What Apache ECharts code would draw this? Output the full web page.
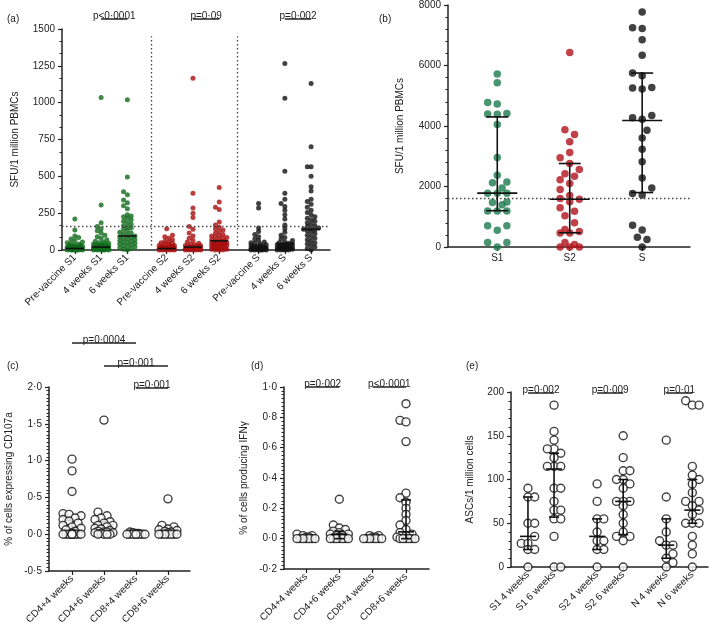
<!DOCTYPE html>
<html><head><meta charset="utf-8">
<script src="https://cdn.jsdelivr.net/npm/echarts@6/dist/echarts.min.js"></script>
<style>html,body{margin:0;padding:0;background:#fff}#c{width:709px;height:627px}</style>
</head><body><div id="c"></div>
<script>
// ================= DATA =================
// (a) SFU/1 million PBMCs
const catsA = ['Pre-vaccine S1','4 weeks S1','6 weeks S1','Pre-vaccine S2','4 weeks S2','6 weeks S2','Pre-vaccine S','4 weeks S','6 weeks S'];
const preS1 = [210,135,95,85,75,65,55,50,45,40,35,30,30,25,25,25,20,20,20,20,15,15,15,15,10,10,10,10,10,5,5,5,5,5,5,0,0,0,0,0,0,0];
const w4S1 = [1035,305,185,160,145,130,115,100,90,80,70,60,55,50,45,40,40,35,35,30,30,25,25,25,20,20,20,20,15,15,15,15,10,10,10,10,10,5,5,5,5,5,0,0,0,0,0,0];
const w6S1 = [1020,495,395,375,340,320,300,280,240,230,225,215,205,195,185,175,165,155,150,140,130,120,115,110,100,95,90,85,80,75,70,65,60,55,50,45,40,35,30,25,20,15,10,5,0];
const preS2 = [145,100,90,80,70,60,55,50,45,40,35,30,30,25,25,20,20,20,15,15,15,10,10,10,10,5,5,5,5,0,0,0,0,0];
const w4S2 = [1165,385,285,250,220,160,140,115,95,80,65,55,45,40,35,30,30,25,25,20,20,20,15,15,15,10,10,10,10,5,5,5,5,0,0,0,0,0];
const w6S2 = [425,325,290,275,190,170,155,145,135,125,115,105,100,95,90,85,80,75,70,65,60,60,55,55,50,50,45,45,40,40,35,35,30,30,25,25,20,20,15,15,10,10,5,5,0,0,0];
const preS = [315,285,150,125,105,90,75,65,55,50,45,40,35,30,30,25,25,20,20,20,15,15,15,10,10,10,10,5,5,5,5,0,0,0,0,0,0];
const w4S = [1265,1030,535,385,345,315,295,270,240,210,170,145,120,100,85,75,65,55,50,45,40,40,35,35,30,30,25,25,20,20,20,15,15,15,10,10,10,5,5,5,0,0,0,0];
const w6S = [1130,700,565,565,500,430,400,345,330,310,290,270,255,240,225,215,205,195,185,175,165,160,150,145,140,135,130,120,110,100,90,80,70,60,50,40,30,20,10,0];
const medA = [10,20,95,10,20,62,15,45,140];
const thresholdA = 163;
const pA = [[1,2,'p<0·0001'],[4,5,'p=0·09'],[7,8,'p=0·002']];

// (b) SFU/1 million PBMCs
const catsB = ['S1','S2','S'];
const bS1 = [5720,5430,4780,4730,4400,4410,4390,4050,2960,2370,2150,2120,1950,1780,1780,1780,1400,1470,1490,1190,1190,1190,700,700,550,150,150,0];
const bS2 = [6430,3880,3720,3480,3120,2950,2760,2560,2420,2340,2220,2100,1900,1700,1600,1580,1500,1300,1180,1030,800,580,510,460,460,150,80,0,0,0];
const bS = [7770,7220,7250,6850,6340,5750,5660,5270,5220,5260,4350,4270,4220,3860,3600,3230,2820,2280,1950,1770,1720,720,560,320,250,0];
const medB = [1780,1580,4180];
const q1B = [1200,470,1800];
const q3B = [4300,2760,5750];
const thresholdB = 1620;

// (c) % of cells expressing CD107a
const catsC = ['CD4+4 weeks','CD4+6 weeks','CD8+4 weeks','CD8+6 weeks'];
const c1 = [1.02,0.86,0.58,0.28,0.27,0.25,0.22,0.2,0.18,0.15,0.12,0.1,0.08,0.06,0.04,0.02,0,0,0,0,0,0,0,0,0,0];
const c2 = [1.55,0.3,0.25,0.22,0.2,0.17,0.15,0.12,0.12,0.1,0.08,0.07,0.05,0.04,0.03,0.03,0.02,0.02,0.01,0,0,0,0];
const c3 = [0.03,0.02,0.01,0.01,0,0,0,0,0,0,0,0];
const c4 = [0.48,0.12,0.1,0.07,0.06,0.05,0.04,0.03,0.02,0,0,0,0,0,0,0];
const medC = [0,0.06,0,0.02];
const q3C = [0.19,0.17,0.01,0.05];
const pC = [[0,2,'p=0·0004'],[1,3,'p=0·001'],[2,3,'p=0·001']];

// (d) % of cells producing IFNγ
const catsD = ['CD4+4 weeks','CD4+6 weeks','CD8+4 weeks','CD8+6 weeks'];
const d1 = [0.03,0.02,0.02,0.01,0.01,0,0,0,0,0,0,0];
const d2 = [0.26,0.09,0.07,0.06,0.05,0.04,0.03,0.03,0.02,0.02,0.01,0,0,0,0,0,0,0];
const d3 = [0.02,0.02,0.01,0.01,0,0,0,0,0,0,0];
const d4 = [0.89,0.78,0.77,0.64,0.3,0.27,0.24,0.2,0.16,0.12,0.09,0.06,0.04,0.03,0.02,0.01,0,0,0,0,0,0];
const medD = [0,0.03,0,0.045];
const q1D = [0,0,0,0];
const q3D = [0.01,0.05,0.01,0.255];
const pD = [[0,1,'p=0·002'],[2,3,'p<0·0001']];

// (e) ASCs/1 million cells
const catsE = ['S1 4 weeks','S1 6 weeks','S2 4 weeks','S2 6 weeks','N 4 weeks','N 6 weeks'];
const e1 = [90,80,80,50,50,35,27,27,20,20,0];
const e2 = [185,155,145,135,135,130,125,115,115,115,90,90,75,65,65,55,55,35,0,0];
const e3 = [95,75,55,55,40,30,30,20,20,0];
const e4 = [150,125,110,110,100,100,95,90,75,75,75,70,60,50,40,35,35,30,0];
const e5 = [145,80,55,40,30,25,25,15,10,5,0];
const e6 = [190,185,185,115,105,100,95,85,75,75,70,65,60,50,50,50,35,25,15,0];
const medE = [35,112,35,75,25,65];
const q1E = [20,57,20,37,10,50];
const q3E = [80,130,55,100,55,100];
const pE = [[0,1,'p=0·002'],[2,3,'p=0·009'],[4,5,'p=0·01']];

// ================= LAYOUT =================
const FONT = "'Liberation Sans', Arial, sans-serif";
const TXT = '#222';
const L = {
  A:{grid:{left:62,top:29,width:268,height:221}, x:[-0.49,9.72], pos:[0,1,2,3.5,4.5,5.5,7,8,9], y:[0,1500,250,3], rot:45, name:'SFU/1 million PBMCs', gap:42, fmt:v=>String(v), sw:{d:5,min:3.6,step:1.9,half:8}, lvl:[10,10,10], medW:18},
  B:{grid:{left:448,top:5,width:242,height:242}, x:[-0.68,2.66], pos:[0,1,2], y:[0,8000,2000,5], rot:0, name:'SFU/1 million PBMCs', gap:43, fmt:v=>String(v), sw:{d:7.5,min:8.5,step:4.8,half:10}, medW:40, capW:22},
  C:{grid:{left:49,top:387,width:141,height:184}, x:[-0.72,3.69], pos:[0,1,2,3], y:[-0.5,2,0.5,10], rot:45, name:'% of cells expressing CD107a', gap:35, fmt:v=>v.toFixed(1).replace('.','·'), sw:{d:8,min:6,step:3,half:9}, lvl:[44,21,-1], medW:14, capW:10},
  D:{grid:{left:284,top:387,width:145,height:182}, x:[-0.66,3.69], pos:[0,1,2,3], y:[-0.2,1,0.2,8], rot:45, name:'% of cells producing IFNγ', gap:35, fmt:v=>v.toFixed(1).replace('.','·'), sw:{d:8,min:6,step:3,half:9}, lvl:[0,0], medW:16, capW:10},
  E:{grid:{left:511,top:392,width:197,height:175}, x:[-0.65,6.9], pos:[0,1,2.65,3.65,5.3,6.3], y:[0,200,50,5], rot:45, name:'ASCs/1 million cells', gap:36, fmt:v=>String(v), sw:{d:8,min:8,step:6.7,half:8}, lvl:[-1,-1,-1], medW:16, capW:10}
};
const keys = ['A','B','C','D','E'];
const cats = {A:catsA,B:catsB,C:catsC,D:catsD,E:catsE};
const sepA = [2.92, 6.17];

// beeswarm: offsets (px) computed from the values and the pixel scale
function swarm(vals, pyu, o){
  const idx = vals.map((v,i)=>i).sort((a,b)=>vals[a]-vals[b] || a-b);
  const placed=[]; const off=new Array(vals.length);
  idx.forEach(i=>{
    const y=vals[i]*pyu;
    let chosen=null, best=0, bestScore=-1;
    outer:
    for(let k=0;k*o.step<=o.half+1e-6;k++){
      const cands = k===0?[0]:(k%2?[k*o.step,-k*o.step]:[-k*o.step,k*o.step]);
      for(const c of cands){
        let md=Infinity;
        for(const p of placed){const d=Math.hypot(p[0]-c,p[1]-y); if(d<md) md=d;}
        if(md>=o.min){chosen=c; break outer;}
        if(md>bestScore+1e-9){bestScore=md; best=c;}
      }
    }
    if(chosen===null) chosen=best;
    off[i]=chosen; placed.push([chosen,y]);
  });
  return off;
}
function pxX(k){const l=L[k];return l.grid.width/(l.x[1]-l.x[0]);}
function pxY(k){const l=L[k];return l.grid.height/(l.y[1]-l.y[0]);}

const grids=[], xAxes=[], yAxes=[], series=[];
keys.forEach((k,gi)=>{
  const l=L[k];
  grids.push(Object.assign({containLabel:false},l.grid));
  xAxes.push({gridIndex:gi,type:'value',min:l.x[0],max:l.x[1],
    axisLine:{onZero:false,lineStyle:{color:'#222',width:1.5}},
    axisTick:{show:true,customValues:l.pos,length:4,lineStyle:{color:'#222',width:1.2}},
    axisLabel:{customValues:l.pos,rotate:l.rot,margin:6,fontSize:10,color:TXT,fontFamily:FONT,
      formatter:(v)=>{let bi=0,bd=1e9;l.pos.forEach((p,i)=>{if(Math.abs(p-v)<bd){bd=Math.abs(p-v);bi=i;}});return cats[k][bi];}},
    splitLine:{show:false}});
  yAxes.push({gridIndex:gi,type:'value',min:l.y[0],max:l.y[1],interval:l.y[2],
    axisLine:{show:true,onZero:false,lineStyle:{color:'#222',width:1.5}},
    axisTick:{show:true,length:4,lineStyle:{color:'#222',width:1.2}},
    minorTick:{show:true,splitNumber:l.y[3],length:2.5,lineStyle:{color:'#222',width:1}},
    axisLabel:{fontSize:10,color:TXT,fontFamily:FONT,margin:7,formatter:l.fmt},
    splitLine:{show:false},
    name:l.name,nameLocation:'middle',nameGap:l.gap,nameTextStyle:{fontSize:10,color:TXT,fontFamily:FONT}});
});

function addDots(k, gi, groups, colors, filled){
  const l=L[k]; const pxx=pxX(k), pyy=pxY(k);
  groups.forEach((vals,j)=>{
    const off=swarm(vals,pyy,l.sw);
    series.push({type:'scatter',xAxisIndex:gi,yAxisIndex:gi,symbol:'circle',symbolSize:l.sw.d,silent:true,z:2,
      itemStyle: filled?{color:colors[j]}:{color:'#fff',borderColor:'#111',borderWidth:1.4},
      data: vals.map((v,i)=>[l.pos[j]+off[i]/pxx, v])});
  });
}
// med/IQR lines; 'only' = which groups to draw, z = stacking vs dots
function addMedians(k, gi, med, q1, q3, only, z){
  const l=L[k];
  const ids = only || med.map((m,j)=>j);
  series.push({type:'custom',xAxisIndex:gi,yAxisIndex:gi,z:z||5,silent:true,
    data: ids.map(j=>[l.pos[j], med[j], q1?q1[j]:med[j], q3?q3[j]:med[j]]),
    renderItem:(p,api)=>{
      const x=api.value(0); const pm=api.coord([x,api.value(1)]), pl=api.coord([x,api.value(2)]), ph=api.coord([x,api.value(3)]);
      const st={stroke:'#111',lineWidth:1.6};
      const ch=[{type:'line',shape:{x1:pm[0]-l.medW/2,y1:pm[1],x2:pm[0]+l.medW/2,y2:pm[1]},style:st}];
      if(q1||q3){
        ch.push({type:'line',shape:{x1:pl[0],y1:pl[1],x2:ph[0],y2:ph[1]},style:st});
        if(q1) ch.push({type:'line',shape:{x1:pl[0]-l.capW/2,y1:pl[1],x2:pl[0]+l.capW/2,y2:pl[1]},style:st});
        if(q3) ch.push({type:'line',shape:{x1:ph[0]-l.capW/2,y1:ph[1],x2:ph[0]+l.capW/2,y2:ph[1]},style:st});
      }
      return {type:'group',children:ch};
    }});
}
function addBrackets(k, gi, br){
  const l=L[k];
  series.push({type:'custom',xAxisIndex:gi,yAxisIndex:gi,z:5,silent:true,clip:false,
    data: br.map(b=>[l.pos[b[0]], l.pos[b[1]]]),
    renderItem:(p,api)=>{
      const a=api.coord([api.value(0),l.y[1]]), b=api.coord([api.value(1),l.y[1]]);
      const y=a[1]-l.lvl[p.dataIndex];
      const txt=br[p.dataIndex][2];
      return {type:'group',children:[
        {type:'line',shape:{x1:a[0],y1:y,x2:b[0],y2:y},style:{stroke:'#222',lineWidth:1.5}},
        {type:'text',style:{text:txt,x:(a[0]+b[0])/2,y:y+2,font:'10px '+FONT,fill:TXT,align:'center',verticalAlign:'bottom',textAlign:'center',textVerticalAlign:'bottom'}}
      ]};
    }});
}

// (a)
const gA='#0f6a1a', rA='#a80e0e', kA='#111';
addDots('A',0,[preS1,w4S1,w6S1,preS2,w4S2,w6S2,preS,w4S,w6S],[gA,gA,gA,rA,rA,rA,kA,kA,kA],true);
addMedians('A',0,medA,null,null);
addBrackets('A',0,pA);
series.push({type:'custom',xAxisIndex:0,yAxisIndex:0,data:[],renderItem:()=>null,
  markLine:{silent:true,symbol:'none',label:{show:false},lineStyle:{color:'#444',type:[1.5,2.5],width:1.3},
    data:[{yAxis:thresholdA},[{coord:[sepA[0],30]},{coord:[sepA[0],1450]}],[{coord:[sepA[1],30]},{coord:[sepA[1],1450]}]]}});
// (b)
addDots('B',1,[bS1,bS2,bS],['#1b7a4e','#b3121b','#111'],true);
addMedians('B',1,medB,q1B,q3B);
series.push({type:'custom',xAxisIndex:1,yAxisIndex:1,data:[],renderItem:()=>null,
  markLine:{silent:true,symbol:'none',label:{show:false},lineStyle:{color:'#444',type:[1.5,2.5],width:1.3},data:[{yAxis:thresholdB}]}});
// (c)
addMedians('C',2,medC,null,q3C,null,1);
addDots('C',2,[c1,c2,c3,c4],null,false);
addBrackets('C',2,pC);
// (d)
addMedians('D',3,medD,q1D,q3D,[0,2],1);
addDots('D',3,[d1,d2,d3,d4],null,false);
addMedians('D',3,medD,q1D,q3D,[1,3],5);
addBrackets('D',3,pD);
// (e)
addDots('E',4,[e1,e2,e3,e4,e5,e6],null,false);
addMedians('E',4,medE,q1E,q3E);
addBrackets('E',4,pE);

const titles=[['(a)',2,9],['(b)',374,9],['(c)',2,356],['(d)',246,356],['(e)',461,356]].map(t=>({text:t[0],left:t[1],top:t[2],textStyle:{fontSize:10,fontWeight:'normal',color:TXT,fontFamily:FONT}}));

const chart=echarts.init(document.getElementById('c'),null,{renderer:'canvas'});
chart.setOption({animation:false,backgroundColor:'#fff',title:titles,grid:grids,xAxis:xAxes,yAxis:yAxes,series:series,textStyle:{fontFamily:FONT}});
</script></body></html>
